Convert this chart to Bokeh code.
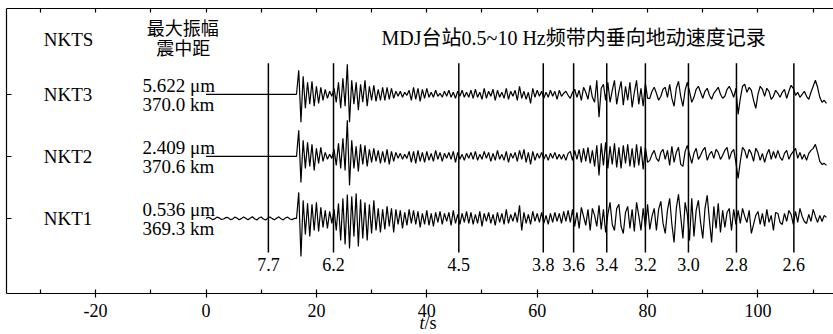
import numpy as np
from bokeh.plotting import figure
from bokeh.models import Range1d, LinearAxis, FixedTicker
from bokeh.core.properties import value
from bokeh.embed import file_html
from bokeh.resources import INLINE

# ---------------- data ----------------
DT = 0.4
T_ONSET = 16.4      # s, start of the post-onset samples
PX_PER_UNIT = 62.0  # amplitude values are given in screen-pixel-like units

STATIONS = ["NKT3", "NKT2", "NKT1"]
OFFSETS = [3, 2, 1]
MAX_AMP = ["5.622 μm", "2.409 μm", "0.536 μm"]
EPI_DIST = ["370.0 km", "370.6 km", "369.3 km"]

VEL_LABELS = ["7.7", "6.2", "4.5", "3.8", "3.6", "3.4", "3.2", "3.0", "2.8", "2.6"]
VEL_TIMES = [11.3, 23.1, 45.8, 61.1, 66.6, 72.6, 79.6, 87.4, 96.1, 106.5]

X_TICKS = [-20, 0, 20, 40, 60, 80, 100]
X_TICK_LABELS = ["-20", "0", "20", "40", "60", "80", "100"]
X_MINOR = [-30, -10, 10, 30, 50, 70, 90, 110]

NKT3_PRE = [0.0] * 41
NKT2_PRE = [0.0] * 41
NKT1_PRE = [0, 1.2, 0.3, -1.2, -0.4, 1.3, 0.5, -1.1, -0.6, 1.0,
            0.8, -1.2, -0.7, 1.3, 0.4, -1.4, -0.2, 1.5, 0.1, -1.3,
            0.2, 1.6, -0.3, -1.5, 0.4, 1.4, -0.5, -1.6, 0.3, 1.5,
            -0.2, -1.4, 0.1, 1.6, -0.4, -1.5, 0.5, 1.3, -0.6, -1.2, 0.0]

NKT3_POST = [
    0, 24, -28, 18, -14, 12, -10, 13, -12, 8, -9, 7, -6, 5, -4, 3, -2, 6, -8, 12,
    -14, 16, -12, 30, -28, 14, -10, 12, -16, 10, -8, 14, -12, 8, -6, 9, -7, 5, -6, 7,
    -6, 7, -5, 6, -4, 3, -2, 3, -3, 2, -1, 4, -6, 7, -5, 6, -7, 5, -4, 6,
    -3, 2, -3, 4, -2, 1, -3, 3, -2, 4, -3, 2, -4, 3, -2, 4, -3, 2, -3, 4,
    -4, 5, -3, 2, -5, 6, -4, 3, -2, 5, -6, 4, -3, 2, -4, 6, -5, 3, -2, 4,
    -6, 8, -4, 3, -5, 2, -9, 6, -3, 4, -2, 3, -4, 2, -3, 4, -2, 3, -5, 4,
    -2, 1, 3, -1, -4, 2, 5, -3, 4, -6, 7, 2, -5, 9, -3, -8, 14, -23, 6, 10,
    -6, 12, -8, 4, 14, -10, 3, 13, -11, 8, -6, 12, -13, 2, 14, -10, 6, -12, 11, -4,
    -4, 3, 7, 1, -6, -2, 5, 7, -3, 10, -4, -12, 6, 13, -2, -12, 4, 12, 3, -8,
    -3, 5, 8, 2, -4, 3, 6, -1, -5, 1, 4, 7, 0, -4, -2, 5, 8, 3, -3, 6,
    -20, -4, 8, 10, 2, 7, 4, -6, -14, 0, 8, 5, -2, 6, 3, -5, -2, 4, 1, -3,
    2, 5, -4, 3, 9, 6, -1, 2, -3, 0, 3, -2, -5, 2, 8, 14, 7, -3, -8, -6,
    -9]

NKT2_POST = [
    0, 26, -26, 16, -12, 14, -10, 12, -14, 8, -7, 9, -5, 4, -3, 2, -2, 7, -9, 13,
    -12, 18, -14, 36, -29, 16, -12, 10, -15, 12, -8, 11, -10, 7, -6, 8, -5, 6, -7, 5,
    -6, 7, -8, 5, -5, 4, -2, 3, -3, 2, -2, 5, -6, 5, -7, 6, -5, 4, -6, 5,
    -4, 3, -5, 6, -3, 4, -5, 3, -2, 4, -3, 5, -6, 4, -3, 2, -4, 3, -2, 4,
    -3, 5, -4, 2, -3, 5, -2, 4, -5, 3, -4, 6, -3, 2, -4, 5, -6, 3, -2, 4,
    -5, 6, -3, 7, -6, 4, -8, 5, -4, 3, -2, 4, -3, 2, -4, 3, -2, 4, -3, 2,
    -3, 2, -4, 3, 5, -4, 6, -3, 7, -6, 8, -5, 9, -7, 6, -10, 11, -19, 13, -9,
    14, -12, 10, -8, 13, -11, 9, -12, 11, -7, 12, -10, 8, -11, 12, -9, 10, -13, 9, -6,
    -4, 2, 6, -2, -5, 4, 7, -3, 6, -9, 10, -6, 4, 9, -8, -10, 5, 11, 2, -7,
    3, 8, -3, 1, 6, 9, -4, 2, 5, -2, 7, 4, -3, 1, 6, 9, -3, 4, 7, -6,
    -22, -5, 9, 6, -2, 7, 3, -5, 8, 4, -4, 3, -6, 2, 7, -3, 5, -2, 6, -1,
    -4, 3, 6, -3, 2, 5, 8, -2, 4, -3, 2, -4, 3, 6, 8, 12, 4, -5, -8, -7,
    -9]

NKT1_POST = [
    0, 26, -38, 18, -16, 15, -18, 14, -12, 16, -13, 11, -9, 8, -10, 7, -5, 9, -12, 15,
    -22, 20, -26, 24, -30, 22, -18, 25, -28, 19, -20, 16, -22, 14, -15, 18, -12, 10, -14, 9,
    -11, 12, -8, 10, -14, 9, -6, 8, -10, 6, -7, 9, -5, 8, -6, 7, -9, 5, -6, 8,
    -7, 5, -8, 6, -4, 7, -6, 5, -3, 6, -7, 8, -5, 4, -6, 5, -4, 7, -5, 6,
    -6, 4, -5, 7, -8, 5, -3, 6, -5, 4, -7, 6, -4, 5, -6, 9, -5, 4, -3, 6,
    -4, 13, -12, 6, -5, 4, -6, 7, -3, 5, -4, 6, -5, 3, -6, 5, -4, 6, -3, 5,
    -5, 7, -3, 8, -4, 9, -8, 6, -10, 11, 2, -7, 9, -12, 10, 3, -8, 13, -11, 9,
    -14, 4, 16, -6, -12, 10, 14, -8, -15, 6, 12, -10, 9, -13, 16, 3, -12, 10, -9, 14,
    -11, 2, 10, -12, 9, 17, -5, -15, 8, 20, -6, -24, 10, 24, 2, -20, 16, 4, -22, 20,
    -18, 8, 18, -4, -20, 10, 23, -2, -24, 12, -10, 15, -14, 8, -9, 6, 10, -12, 9, -6,
    8, -5, 10, 2, -4, 8, -15, -6, 3, 7, -6, 5, -8, 9, -4, 3, -12, 6, 5, -4,
    -6, 5, -3, 8, 4, -6, 7, -4, 10, 2, -3, -5, 4, -3, 9, 2, -4, 3, -3, 3,
    1]

TRACES = [(NKT3_PRE, NKT3_POST), (NKT2_PRE, NKT2_POST), (NKT1_PRE, NKT1_POST)]

TITLE = "MDJ台站0.5~10 Hz频带内垂向地动速度记录"
HEAD_STATION = "NKTS"
HEAD_AMP = "最大振幅"
HEAD_DIST = "震中距"
X_LABEL_VAR = "t"
X_LABEL_UNIT = "/s"

# ---------------- layout (data-space frame of the chart box) ----------------
X_LEFT, X_RIGHT = -36.14, 113.68     # box left edge / right end of page
Y_BOTTOM, Y_TOP = -0.205, 4.387      # box bottom (time axis) / box top
PAGE_X0 = -37.23                     # page left edge in data units
PAGE_Y0, PAGE_Y1 = -0.870, 4.511     # page bottom / top in data units

SERIF = "Liberation Serif"
MIXED = "'Liberation Serif', 'Noto Sans CJK SC'"

p = figure(width=833, height=334, output_backend="svg", toolbar_location=None,
           x_range=Range1d(PAGE_X0, X_RIGHT), y_range=Range1d(PAGE_Y0, PAGE_Y1),
           x_axis_location=None, y_axis_location=None,
           min_border=0, min_border_left=0, min_border_right=0,
           min_border_top=0, min_border_bottom=0)
p.outline_line_color = None
p.xgrid.visible = False
p.ygrid.visible = False
p.background_fill_color = "white"
p.border_fill_color = "white"


def style_line(a):
    a.axis_line_color = "black"
    a.axis_line_width = 1.2
    a.major_tick_line_color = "black"
    a.minor_tick_line_color = "black"
    a.major_tick_line_width = 1.2
    a.minor_tick_line_width = 1.2


# bottom time axis
bax = LinearAxis(ticker=FixedTicker(ticks=X_TICKS, minor_ticks=X_MINOR),
                 fixed_location=Y_BOTTOM, bounds=(X_LEFT, X_RIGHT))
bax.major_label_overrides = {t: s for t, s in zip(X_TICKS, X_TICK_LABELS)}
bax.major_tick_in = 4
bax.major_tick_out = 4
bax.minor_tick_in = 4
bax.minor_tick_out = 0
bax.major_label_standoff = 7
bax.major_label_text_font = SERIF
bax.major_label_text_font_size = "18px"
bax.major_label_text_color = "black"
style_line(bax)
p.add_layout(bax, "below")

# top border with inward ticks (minor ticks only -> no labels)
tax = LinearAxis(ticker=FixedTicker(ticks=[], minor_ticks=sorted(X_TICKS + X_MINOR)),
                 fixed_location=Y_TOP, bounds=(X_LEFT, X_RIGHT))
tax.minor_tick_in = 4
tax.minor_tick_out = 0
tax.major_tick_in = 0
tax.major_tick_out = 0
style_line(tax)
p.add_layout(tax, "above")

# left border with inward ticks at the traces
lax = LinearAxis(ticker=FixedTicker(ticks=[], minor_ticks=OFFSETS),
                 fixed_location=X_LEFT, bounds=(Y_BOTTOM, Y_TOP))
lax.minor_tick_in = 5
lax.minor_tick_out = 0
lax.major_tick_in = 0
lax.major_tick_out = 0
style_line(lax)
p.add_layout(lax, "left")

# traces
for off, (pre, post) in zip(OFFSETS, TRACES):
    t_pre = np.arange(len(pre)) * DT
    t_post = T_ONSET + np.arange(len(post)) * DT
    t = np.concatenate([t_pre, t_post])
    y = off + np.concatenate([np.asarray(pre, float), np.asarray(post, float)]) / PX_PER_UNIT
    p.line(t, y, line_color="black", line_width=1.2)

# velocity marker lines
p.segment(x0=VEL_TIMES, y0=[0.45] * len(VEL_TIMES), x1=VEL_TIMES, y1=[3.5] * len(VEL_TIMES),
          line_color="black", line_width=1.5)
p.text(x=VEL_TIMES, y=[0.26] * len(VEL_TIMES), text=VEL_LABELS,
       text_font=value(SERIF), text_font_size="18px", text_align="center",
       text_baseline="middle", text_color="black")

# station labels
p.text(x=[-29.4] * 4, y=[3.887] + OFFSETS, text=[HEAD_STATION] + STATIONS,
       text_font=value(SERIF), text_font_size="19px", text_align="left",
       text_baseline="middle", text_color="black")
p.text(x=[-11.5] * 3, y=[o + 0.14 for o in OFFSETS], text=MAX_AMP,
       text_font=value(SERIF), text_font_size="19px", text_align="left",
       text_baseline="middle", text_color="black")
p.text(x=[-11.5] * 3, y=[o - 0.16 for o in OFFSETS], text=EPI_DIST,
       text_font=value(SERIF), text_font_size="19px", text_align="left",
       text_baseline="middle", text_color="black")
p.text(x=[-4.2, -4.1], y=[4.05, 3.73], text=[HEAD_AMP, HEAD_DIST],
       text_font=value(MIXED), text_font_size="18px", text_align="center",
       text_baseline="middle", text_color="black")
p.text(x=[66.6], y=[3.9], text=[TITLE],
       text_font=value(MIXED), text_font_size="20px", text_align="center",
       text_baseline="middle", text_color="black")

# axis title t/s
p.text(x=[39.6], y=[-0.69], text=[X_LABEL_VAR], text_font=value(SERIF),
       text_font_size="18px", text_font_style="italic", text_align="right",
       text_baseline="middle", text_color="black")
p.text(x=[39.6], y=[-0.69], text=[X_LABEL_UNIT], text_font=value(SERIF),
       text_font_size="18px", text_align="left",
       text_baseline="middle", text_color="black")

open("out.html", "w").write(file_html(p, INLINE))
